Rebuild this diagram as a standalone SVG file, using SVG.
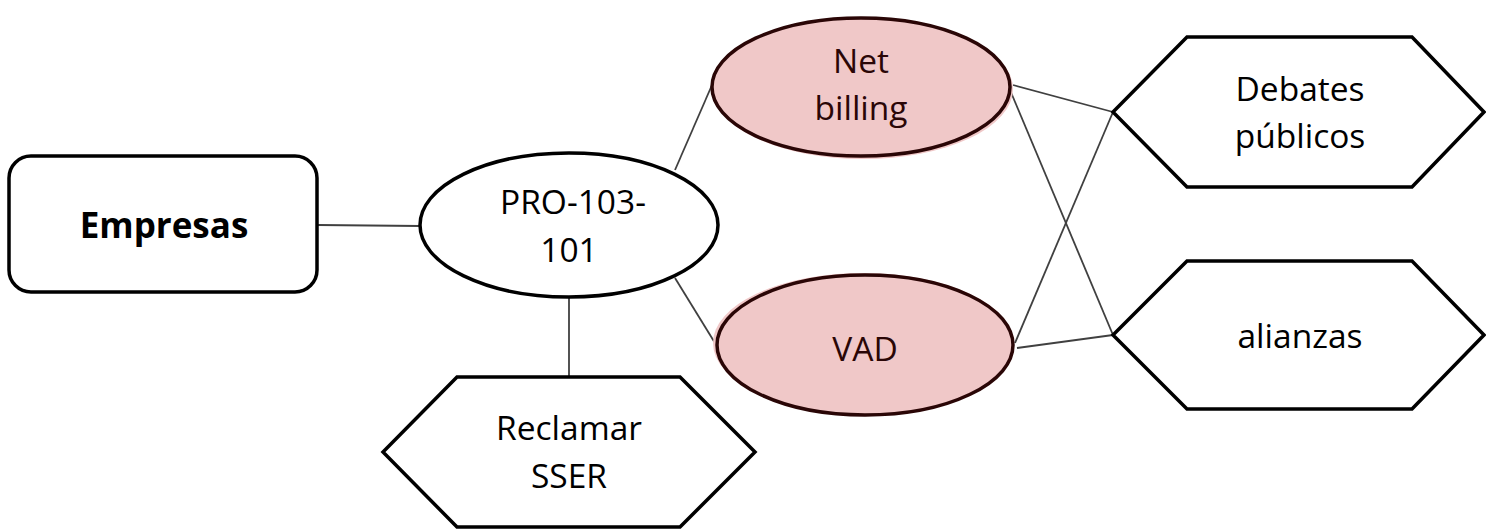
<svg xmlns="http://www.w3.org/2000/svg" width="1486" height="529" viewBox="0 0 1486 529">
<style>
.node{fill:#fff;stroke:#000;stroke-width:3.5;stroke-linejoin:miter}
.pink{fill:#f0c8c8;stroke:#2a0606;stroke-width:3.5}
.glow{fill:#f0c8c8;stroke:none}
.conn line{stroke:#404040;stroke-width:1.8}
text{font-family:"Open Sans","Liberation Sans",sans-serif;font-size:33.5px;fill:#000;text-anchor:middle}
.dk{fill:#2a0606}
.b{font-weight:bold;font-size:35px}
</style>
<rect width="1486" height="529" fill="#fff"/>
<g id="connectors" class="conn">
<line x1="318" y1="225" x2="420" y2="226"/>
<line x1="675" y1="170" x2="712" y2="85"/>
<line x1="675" y1="278" x2="715" y2="343"/>
<line x1="569" y1="297" x2="569" y2="377"/>
<line x1="1013" y1="85" x2="1113" y2="112"/>
<line x1="1010" y1="90" x2="1113" y2="335"/>
<line x1="1015" y1="343" x2="1113" y2="112"/>
<line x1="1017" y1="348" x2="1113" y2="335"/>
</g>
<g id="empresas">
<rect class="node" x="9" y="156" width="308" height="136" rx="22"/>
<text class="b" x="164" y="238">Empresas</text>
</g>
<g id="pro">
<ellipse class="node" cx="569" cy="225" rx="149" ry="72"/>
<text x="573" y="214">PRO-103-</text>
<text x="569" y="262">101</text>
</g>
<g id="netbilling">
<ellipse class="glow" cx="863" cy="89" rx="150" ry="70"/>
<ellipse class="pink" cx="861" cy="87" rx="149" ry="69"/>
<text class="dk" x="861" y="73">Net</text>
<text class="dk" x="861" y="120">billing</text>
</g>
<g id="vad">
<ellipse class="glow" cx="863" cy="343" rx="150" ry="70"/>
<ellipse class="pink" cx="865" cy="345" rx="148" ry="70"/>
<text class="dk" x="865" y="361">VAD</text>
</g>
<g id="reclamar">
<polygon class="node" points="457,377 680,377 755,452 680,527 457,527 383,452"/>
<text x="569" y="440">Reclamar</text>
<text x="569" y="488">SSER</text>
</g>
<g id="debates">
<polygon class="node" points="1187,37 1412,37 1484,112 1412,187 1187,187 1113,112"/>
<text x="1300" y="101">Debates</text>
<text x="1300" y="148">públicos</text>
</g>
<g id="alianzas">
<polygon class="node" points="1187,261 1412,261 1484,335 1412,409 1187,409 1113,335"/>
<text x="1300" y="348">alianzas</text>
</g>
</svg>
